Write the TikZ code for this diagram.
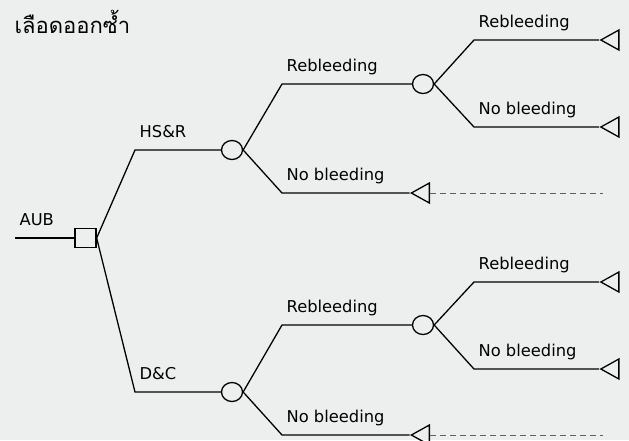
\documentclass[tikz,border=0pt]{standalone}
\usepackage{fontspec}
\setmainfont{DejaVu Sans}
\newfontfamily\thaifont[Script=Thai]{Loma}
\usetikzlibrary{shapes.geometric}
\definecolor{bgcol}{RGB}{237,239,238}
\definecolor{dashcol}{RGB}{95,95,95}

\begin{document}
\begin{tikzpicture}[x=1pt,y=-1pt,line width=1.3pt,
  decision/.style={draw,rectangle,minimum width=21pt,minimum height=19pt,inner sep=0pt},
  chance/.style={draw,ellipse,minimum width=21pt,minimum height=19pt,inner sep=0pt},
  leaf/.style={draw,isosceles triangle,isosceles triangle stretches,shape border rotate=180,minimum width=20pt,minimum height=18pt,inner sep=0pt},
  lbl/.style={font=\fontsize{16.3}{19}\selectfont,inner sep=0pt,anchor=base west}]
\fill[bgcol] (0,0) rectangle (629,440);
\useasboundingbox (0,0) rectangle (629,440);

\node[font=\thaifont\fontsize{22}{26}\selectfont,anchor=base west,inner sep=0pt] (title) at (14,33) {เลือดออกซ้ำ};

% root
\coordinate (start) at (15,238);
\node[decision] (d0) at (85.5,238) {};
\node[lbl] (aub) at (19,225) {AUB};

% HS&R branch
\coordinate (k1) at (135,150);
\node[chance] (c1) at (232,150) {};
\coordinate (k11) at (282,84);
\node[chance] (c11) at (423,84) {};
\coordinate (k111) at (474,40);
\node[leaf] (t111) at (613,40) {};
\coordinate (k112) at (474,127);
\node[leaf] (t112) at (613,127) {};
\coordinate (k12) at (282,193);
\node[leaf] (t12) at (423.5,193) {};
\coordinate (e12) at (603,193);

\node[lbl] (l1) at (139,137) {HS\&R};
\node[lbl] (l11) at (286,71) {Rebleeding};
\node[lbl] (l111) at (478,27) {Rebleeding};
\node[lbl] (l112) at (478,114) {No bleeding};
\node[lbl] (l12) at (286,180) {No bleeding};

% D&C branch
\coordinate (k2) at (135,392);
\node[chance] (c2) at (232,392) {};
\coordinate (k21) at (282,325);
\node[chance] (c21) at (423,325) {};
\coordinate (k211) at (474,282);
\node[leaf] (t211) at (613,282) {};
\coordinate (k212) at (474,369);
\node[leaf] (t212) at (613,369) {};
\coordinate (k22) at (282,435);
\node[leaf] (t22) at (423.5,435) {};
\coordinate (e22) at (603,435);

\node[lbl] (l2) at (139,379) {D\&C};
\node[lbl] (l21) at (286,312) {Rebleeding};
\node[lbl] (l211) at (478,269) {Rebleeding};
\node[lbl] (l212) at (478,356) {No bleeding};
\node[lbl] (l22) at (286,422) {No bleeding};

\draw (start) -- (d0);
\draw (d0.east) -- (k1) -- (c1);
\draw (d0.east) -- (k2) -- (c2);
\draw (c1.east) -- (k11) -- (c11);
\draw (c1.east) -- (k12) -- (t12);
\draw (c11.east) -- (k111) -- (t111);
\draw (c11.east) -- (k112) -- (t112);
\draw (c2.east) -- (k21) -- (c21);
\draw (c2.east) -- (k22) -- (t22);
\draw (c21.east) -- (k211) -- (t211);
\draw (c21.east) -- (k212) -- (t212);
\draw[dashcol,line width=1pt,dash pattern=on 6pt off 4pt] (t12.east) -- (e12);
\draw[dashcol,line width=1pt,dash pattern=on 6pt off 4pt] (t22.east) -- (e22);
\end{tikzpicture}
\end{document}
